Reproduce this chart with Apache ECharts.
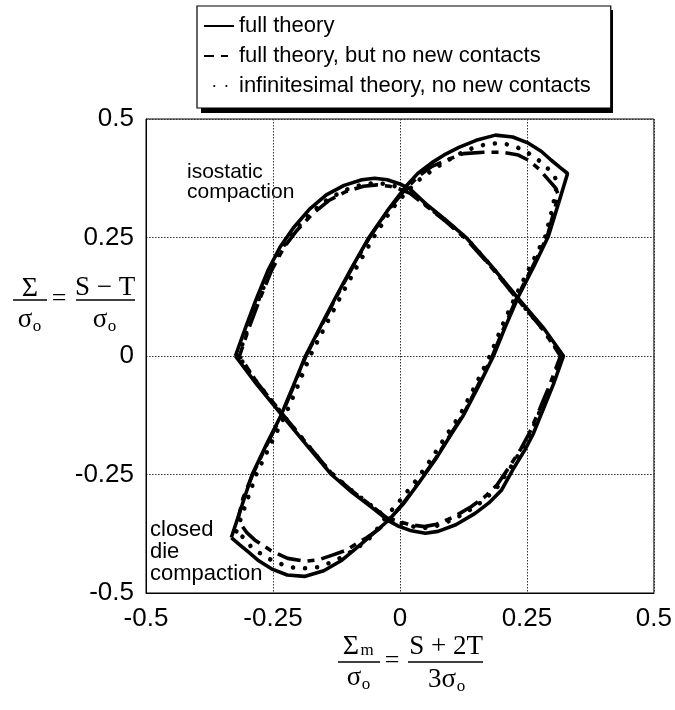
<!DOCTYPE html>
<html>
<head>
<meta charset="utf-8">
<script src="https://cdn.jsdelivr.net/npm/echarts@6/dist/echarts.min.js"></script>
<style>
html,body{margin:0;padding:0;background:#fff;}
#chart{width:675px;height:710px;}
</style>
</head>
<body>
<div id="chart"></div>
<script>
// ---------- data ----------
const seriesNames = ['full theory', 'full theory, but no new contacts', 'infinitesimal theory, no new contacts'];
const tickValues = [-0.5, -0.25, 0, 0.25, 0.5];
const notes = ['isostatic\ncompaction', 'closed\ndie\ncompaction'];

// full theory, loop 1 (isostatic)
const fullLoop1 = [
  [-0.324,0.000],[-0.304,0.060],[-0.283,0.120],[-0.260,0.180],[-0.236,0.230],[-0.210,0.270],
  [-0.178,0.310],[-0.145,0.340],[-0.110,0.360],[-0.075,0.372],[-0.050,0.375],[-0.025,0.372],
  [0.000,0.363],[0.020,0.352],[0.050,0.322],[0.090,0.287],[0.132,0.248],[0.180,0.190],
  [0.230,0.125],[0.282,0.060],[0.322,0.000],
  [0.302,-0.060],[0.281,-0.115],[0.262,-0.165],[0.246,-0.198],[0.222,-0.240],[0.200,-0.283],
  [0.175,-0.310],[0.148,-0.332],[0.110,-0.356],[0.075,-0.370],[0.050,-0.374],[0.020,-0.368],
  [-0.005,-0.358],[-0.022,-0.348],[-0.055,-0.320],[-0.095,-0.287],[-0.135,-0.250],
  [-0.182,-0.190],[-0.232,-0.125],[-0.282,-0.060],[-0.324,0.000]
];
// full theory, loop 2 (closed die)
const fullLoop2 = [
  [-0.332,-0.383],[-0.311,-0.315],[-0.291,-0.250],[-0.263,-0.187],[-0.235,-0.127],[-0.210,-0.063],
  [-0.186,0.000],[-0.156,0.063],[-0.126,0.125],[-0.094,0.188],[-0.061,0.250],[-0.025,0.306],
  [0.011,0.357],[0.035,0.385],[0.063,0.408],[0.090,0.426],[0.116,0.440],[0.150,0.455],
  [0.188,0.466],[0.222,0.462],[0.253,0.449],[0.278,0.432],[0.298,0.413],[0.315,0.398],
  [0.330,0.385],
  [0.311,0.318],[0.292,0.252],[0.263,0.188],[0.233,0.125],[0.208,0.063],[0.184,0.000],
  [0.155,-0.063],[0.125,-0.125],[0.102,-0.163],[0.070,-0.218],[0.037,-0.268],[0.008,-0.310],
  [-0.022,-0.346],[-0.050,-0.372],[-0.080,-0.400],[-0.116,-0.432],[-0.150,-0.453],
  [-0.188,-0.465],[-0.222,-0.462],[-0.253,-0.449],[-0.278,-0.432],[-0.298,-0.414],
  [-0.316,-0.398],[-0.332,-0.383]
];
// full theory, but no new contacts
const noNewLoop1 = [
  [-0.316,0.000],[-0.297,0.060],[-0.276,0.120],[-0.253,0.180],[-0.229,0.228],[-0.203,0.265],
  [-0.172,0.300],[-0.140,0.328],[-0.106,0.347],[-0.072,0.358],[-0.045,0.361],[-0.020,0.358],
  [0.000,0.352],[0.020,0.343],[0.050,0.318],[0.090,0.284],[0.132,0.245],[0.180,0.187],
  [0.228,0.124],[0.280,0.058],[0.316,0.000],
  [0.296,-0.058],[0.275,-0.112],[0.255,-0.162],[0.238,-0.196],[0.214,-0.236],[0.191,-0.272],
  [0.166,-0.298],[0.140,-0.318],[0.105,-0.340],[0.072,-0.355],[0.048,-0.360],[0.020,-0.356],
  [-0.005,-0.348],[-0.025,-0.342],[-0.055,-0.317],[-0.095,-0.284],[-0.135,-0.247],
  [-0.182,-0.187],[-0.230,-0.124],[-0.280,-0.058],[-0.316,0.000]
];
const noNewLoop2 = [
  [-0.318,-0.340],[-0.309,-0.300],[-0.290,-0.250],[-0.262,-0.187],[-0.234,-0.127],[-0.209,-0.063],
  [-0.185,0.000],[-0.155,0.063],[-0.125,0.125],[-0.093,0.188],[-0.060,0.250],[-0.024,0.306],
  [0.011,0.352],[0.035,0.378],[0.063,0.400],[0.096,0.415],[0.125,0.427],[0.165,0.430],
  [0.200,0.430],[0.233,0.424],[0.255,0.412],[0.275,0.393],[0.292,0.372],[0.306,0.355],
  [0.312,0.340],
  [0.302,0.300],[0.290,0.252],[0.261,0.188],[0.231,0.125],[0.206,0.063],[0.182,0.000],
  [0.153,-0.063],[0.124,-0.125],[0.101,-0.163],[0.069,-0.218],[0.036,-0.268],[0.007,-0.310],
  [-0.022,-0.346],[-0.041,-0.365],[-0.065,-0.383],[-0.086,-0.396],[-0.106,-0.410],
  [-0.133,-0.420],[-0.160,-0.430],[-0.188,-0.433],[-0.221,-0.427],[-0.255,-0.410],
  [-0.286,-0.388],[-0.302,-0.372],[-0.315,-0.352],[-0.318,-0.340]
];
// infinitesimal theory, no new contacts
const infLoop1 = [
  [-0.318,0.000],[-0.299,0.060],[-0.278,0.120],[-0.255,0.180],[-0.231,0.229],[-0.205,0.267],
  [-0.174,0.303],[-0.142,0.331],[-0.108,0.350],[-0.074,0.362],[-0.047,0.365],[-0.022,0.362],
  [0.000,0.355],[0.020,0.346],[0.052,0.318],[0.092,0.284],[0.134,0.245],[0.182,0.187],
  [0.230,0.122],[0.281,0.057],[0.318,0.000],
  [0.298,-0.059],[0.277,-0.113],[0.257,-0.163],[0.240,-0.197],[0.216,-0.238],[0.193,-0.275],
  [0.168,-0.302],[0.142,-0.322],[0.107,-0.344],[0.073,-0.358],[0.048,-0.363],[0.020,-0.359],
  [-0.005,-0.350],[-0.025,-0.342],[-0.057,-0.315],[-0.097,-0.282],[-0.137,-0.245],
  [-0.184,-0.185],[-0.232,-0.122],[-0.281,-0.057],[-0.318,0.000]
];
const infLoop2 = [
  [-0.322,-0.370],[-0.306,-0.320],[-0.283,-0.250],[-0.255,-0.187],[-0.226,-0.125],[-0.201,-0.063],
  [-0.177,0.000],[-0.147,0.063],[-0.117,0.125],[-0.085,0.188],[-0.052,0.250],[-0.016,0.310],
  [0.012,0.345],[0.037,0.371],[0.065,0.393],[0.090,0.410],[0.120,0.428],[0.148,0.441],
  [0.175,0.448],[0.200,0.449],[0.225,0.443],[0.249,0.431],[0.273,0.413],[0.298,0.389],
  [0.310,0.368],
  [0.300,0.310],[0.286,0.252],[0.256,0.188],[0.227,0.125],[0.201,0.063],[0.177,0.000],
  [0.148,-0.063],[0.118,-0.125],[0.094,-0.163],[0.061,-0.218],[0.030,-0.265],[0.000,-0.305],
  [-0.028,-0.340],[-0.055,-0.380],[-0.080,-0.402],[-0.110,-0.422],[-0.133,-0.434],
  [-0.159,-0.445],[-0.182,-0.448],[-0.208,-0.447],[-0.234,-0.439],[-0.260,-0.427],
  [-0.290,-0.406],[-0.316,-0.374],[-0.322,-0.370]
];

// ---------- chart ----------
const chart = echarts.init(document.getElementById('chart'), null, {renderer: 'canvas'});
const sans = 'Liberation Sans, Arial, Helvetica, sans-serif';
const serif = 'Liberation Serif, Times New Roman, serif';

const solidStyle = {color: '#000', width: 3.6, type: 'solid'};
const dashStyle = {color: '#000', width: 3.6, type: [24, 7, 7, 7], dashOffset: 14, cap: 'butt'};
const dotStyle = {color: '#000', width: 4.5, type: [0.1, 12], cap: 'round'};

function mk(name, data, ls, z) {
  return {
    name: name, type: 'line', data: data, symbol: 'circle', symbolSize: 0, showSymbol: false,
    lineStyle: ls, itemStyle: {color: '#000'}, z: z, silent: true, animation: false,
    clip: false
  };
}

function txt(x, y, text, size, family, align) {
  return {
    type: 'text', x: x, y: y, silent: true, z: 10,
    style: {text: text, fontSize: size, fontFamily: family, fill: '#000',
      align: align || 'center', verticalAlign: 'middle'}
  };
}
function bar(x1, x2, y) {
  return {type: 'line', silent: true, z: 10, shape: {x1: x1, y1: y, x2: x2, y2: y},
    style: {stroke: '#000', lineWidth: 1.5}};
}

const graphics = [
  // legend drop shadow
  {type: 'rect', silent: true, z: -10, zlevel: 0, shape: {x: 201, y: 10, width: 412, height: 103}, style: {fill: '#000'}},
  // y-axis title: Σ/σo = (S − T)/σo
  txt(30, 289, 'Σ', 28, serif), bar(13, 47, 300),
  txt(25, 320, 'σ', 27, serif), txt(37, 327, 'o', 17, serif),
  txt(59, 299, '=', 26, serif),
  txt(105, 288, 'S − T', 27, serif), bar(76, 135, 300),
  txt(100, 320, 'σ', 27, serif), txt(112, 327, 'o', 17, serif),
  // x-axis title: Σm/σo = (S + 2T)/(3σo)
  txt(351, 647, 'Σ', 28, serif), txt(367, 651, 'm', 17, serif), bar(338, 380, 662),
  txt(354, 678, 'σ', 27, serif), txt(366, 685, 'o', 17, serif),
  txt(392, 661, '=', 26, serif),
  txt(446, 647, 'S + 2T', 27, serif), bar(408, 483, 662),
  txt(442, 680, '3σ', 27, serif), txt(461, 687, 'o', 17, serif),
  // annotations
  {type: 'text', left: 187, top: 162, silent: true,
    style: {text: notes[0], fontSize: 21, fontFamily: sans, fill: '#000', lineHeight: 20}},
  {type: 'text', left: 150, top: 519, silent: true,
    style: {text: notes[1], fontSize: 22, fontFamily: sans, fill: '#000', lineHeight: 22}}
];

const option = {
  backgroundColor: '#fff',
  animation: false,
  grid: {left: 146, top: 119, width: 510, height: 474, show: true, borderColor: '#000', borderWidth: 1, backgroundColor: 'transparent'},
  legend: {
    data: seriesNames, orient: 'vertical', left: 197, top: 6, z: 20,
    padding: [9, 20, 11, 6], itemGap: 8, itemWidth: 30, itemHeight: 14,
    backgroundColor: '#fff', borderColor: '#000', borderWidth: 1.2,
    itemStyle: {opacity: 0, borderWidth: 0},
    textStyle: {fontSize: 22, fontFamily: sans, color: '#000', padding: [0, 0, 0, 0]},
    selectedMode: false
  },
  xAxis: {
    type: 'value', min: tickValues[0], max: tickValues[tickValues.length - 1],
    interval: tickValues[1] - tickValues[0],
    axisLine: {show: true, onZero: false, lineStyle: {color: '#000', width: 1}},
    axisTick: {show: false},
    axisLabel: {fontSize: 26, fontFamily: sans, color: '#000', margin: 13},
    splitLine: {show: true, lineStyle: {color: '#333', type: [1.5, 1.5], width: 1}}
  },
  yAxis: {
    type: 'value', min: tickValues[0], max: tickValues[tickValues.length - 1],
    interval: tickValues[1] - tickValues[0],
    axisLine: {show: true, onZero: false, lineStyle: {color: '#000', width: 1}},
    axisTick: {show: false},
    axisLabel: {fontSize: 26, fontFamily: sans, color: '#000', margin: 12},
    splitLine: {show: true, lineStyle: {color: '#333', type: [1.5, 1.5], width: 1}}
  },
  series: [
    mk(seriesNames[0], fullLoop1, solidStyle, 3),
    mk(seriesNames[0], fullLoop2, solidStyle, 3),
    mk(seriesNames[1], noNewLoop1, dashStyle, 4),
    mk(seriesNames[1], noNewLoop2, dashStyle, 4),
    mk(seriesNames[2], infLoop1, dotStyle, 5),
    mk(seriesNames[2], infLoop2, dotStyle, 5)
  ],
  graphic: graphics
};
chart.setOption(option);
</script>
</body>
</html>
